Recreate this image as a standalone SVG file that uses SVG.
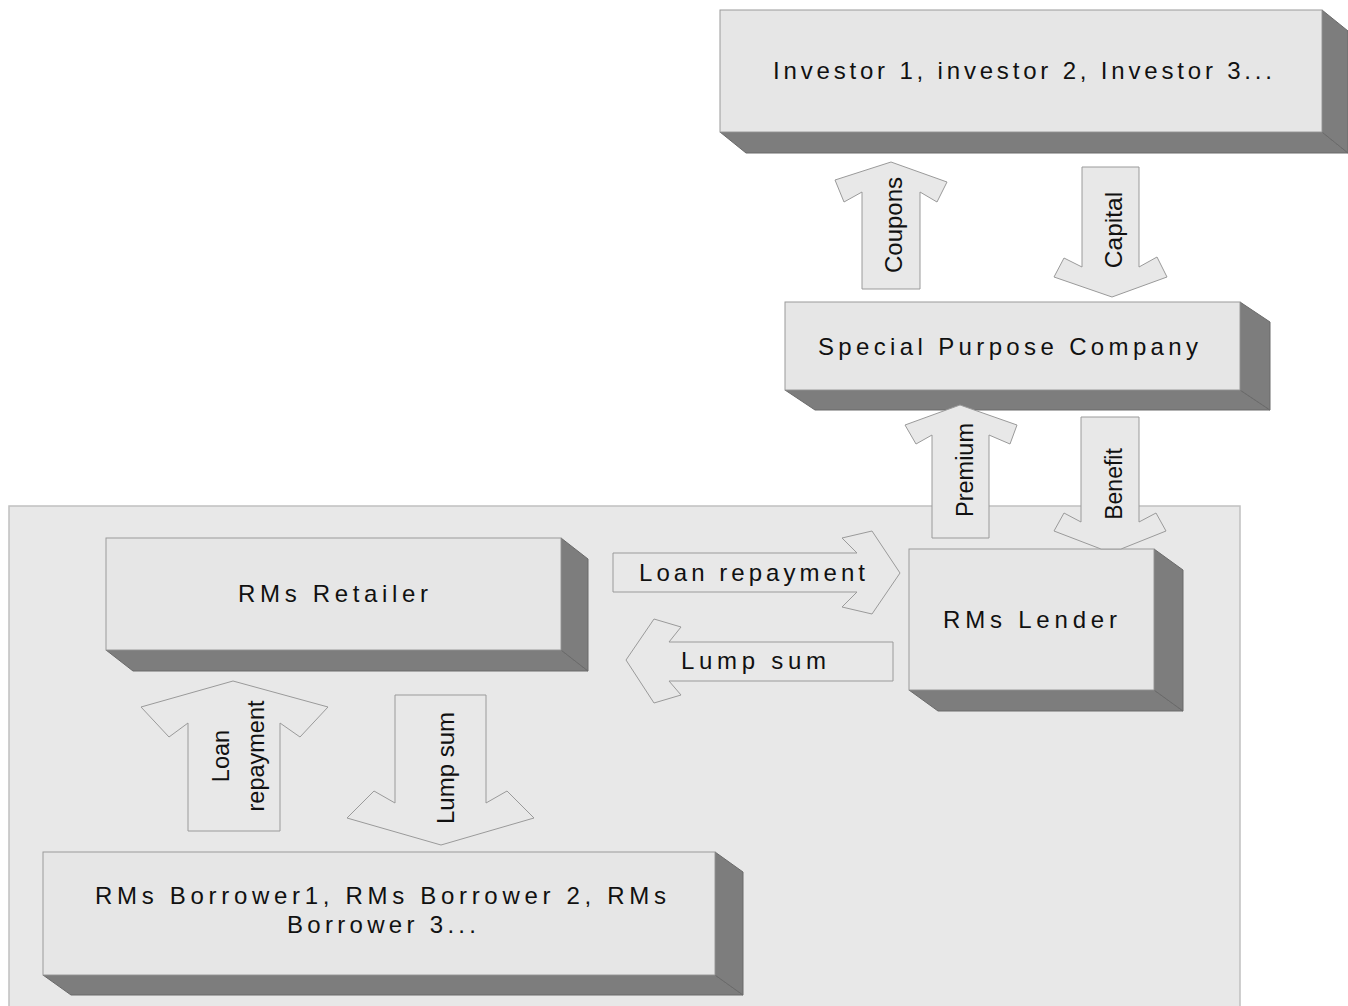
<svg xmlns="http://www.w3.org/2000/svg" width="1348" height="1006" viewBox="0 0 1348 1006">
<style>
.front{fill:#e6e6e6;stroke:#9a9a9a;stroke-width:1}
.shade{fill:#7d7d7d;stroke:#6a6a6a;stroke-width:1}
.arrow{fill:#e8e8e8;stroke:#9a9a9a;stroke-width:1}
.bg{fill:#e8e8e8;stroke:#c0c0c0;stroke-width:1.5}
.lbl{font-family:"Liberation Sans",Arial,sans-serif;font-size:24px;fill:#111}
.vl{font-family:"Liberation Sans",Arial,sans-serif;font-size:24px;fill:#111;text-anchor:middle}
</style>
<rect width="1348" height="1006" fill="#ffffff"/>
<rect id="region" class="bg" x="9" y="506" width="1231" height="510"/>

<g id="investors">
  <polygon class="shade" points="720,132 1322,132 1348,153 746,153"/>
  <polygon class="shade" points="1322,10 1348,31 1348,153 1322,132"/>
  <rect class="front" x="720" y="10" width="602" height="122"/>
  <text class="lbl" x="773" y="79" textLength="499" lengthAdjust="spacing">Investor 1, investor 2, Investor 3...</text>
</g>

<g id="spc">
  <polygon class="shade" points="785,390 1240,390 1270,410 815,410"/>
  <polygon class="shade" points="1240,302 1270,322 1270,410 1240,390"/>
  <rect class="front" x="785" y="302" width="455" height="88"/>
  <text class="lbl" x="818" y="355" textLength="380" lengthAdjust="spacing">Special Purpose Company</text>
</g>

<g id="retailer">
  <polygon class="shade" points="106,650 561,650 588,671 133,671"/>
  <polygon class="shade" points="561,538 588,559 588,671 561,650"/>
  <rect class="front" x="106" y="538" width="455" height="112"/>
  <text class="lbl" x="238" y="602" textLength="190" lengthAdjust="spacing">RMs Retailer</text>
</g>

<g id="lender">
  <polygon class="shade" points="909,690 1154,690 1183,711 938,711"/>
  <polygon class="shade" points="1154,549 1183,570 1183,711 1154,690"/>
  <rect class="front" x="909" y="549" width="245" height="141"/>
  <text class="lbl" x="943" y="628" textLength="174" lengthAdjust="spacing">RMs Lender</text>
</g>

<g id="borrowers">
  <polygon class="shade" points="43,975 715,975 743,995 71,995"/>
  <polygon class="shade" points="715,852 743,872 743,995 715,975"/>
  <rect class="front" x="43" y="852" width="672" height="123"/>
  <text class="lbl" x="95" y="904" textLength="571" lengthAdjust="spacing">RMs Borrower1, RMs Borrower 2, RMs</text>
  <text class="lbl" x="287" y="933" textLength="189" lengthAdjust="spacing">Borrower 3...</text>
</g>

<g id="connectors">
  <g id="coupons">
    <polygon class="arrow" points="862,289 862,192 844,202 835,180 891,162 947,182 937,202 920,192 920,289"/>
    <text class="vl" transform="translate(902,225) rotate(-90)">Coupons</text>
  </g>
  <g id="capital">
    <polygon class="arrow" points="1082,167 1139,167 1139,267 1157,257 1167,277 1112,297 1054,277 1064,258 1082,267"/>
    <text class="vl" style="font-size:24.5px" transform="translate(1122,230) rotate(-90)">Capital</text>
  </g>
  <g id="premium">
    <polygon class="arrow" points="932,538 932,435 916,444 905,425 960,405 1017,425 1010,444 989,435 989,538"/>
    <text class="vl" style="font-size:23.5px" transform="translate(973,470) rotate(-90)">Premium</text>
  </g>
  <g id="benefit">
    <polygon class="arrow" points="1081,417 1139,417 1139,522 1156,513 1166,531 1121,549 1101,549 1054,531 1064,513 1081,522"/>
    <text class="vl" style="font-size:23px" transform="translate(1122,484) rotate(-90)">Benefit</text>
  </g>
  <g id="loan-repayment-h">
    <polygon class="arrow" points="613,553 857,553 842,538 872,531 900,573 872,614 842,607 857,592 613,592"/>
    <text class="lbl" x="639" y="581" textLength="226" lengthAdjust="spacing">Loan repayment</text>
  </g>
  <g id="lump-sum-h">
    <polygon class="arrow" points="893,642 669,642 681,627 654,619 626,660 654,703 681,695 669,681 893,681"/>
    <text class="lbl" x="681" y="669" textLength="145" lengthAdjust="spacing">Lump sum</text>
  </g>
  <g id="loan-repayment-v">
    <polygon class="arrow" points="188,831 188,723 169,737 141,707 233,681 328,707 300,737 280,723 280,831"/>
    <text class="vl" style="font-size:23.5px" transform="translate(229,756) rotate(-90)">Loan</text>
    <text class="vl" style="font-size:23.5px" transform="translate(264,756) rotate(-90)">repayment</text>
  </g>
  <g id="lump-sum-v">
    <polygon class="arrow" points="395,695 486,695 486,803 507,791 534,818 441,845 347,818 374,791 395,803"/>
    <text class="vl" transform="translate(454,768) rotate(-90)">Lump sum</text>
  </g>
</g>
</svg>
